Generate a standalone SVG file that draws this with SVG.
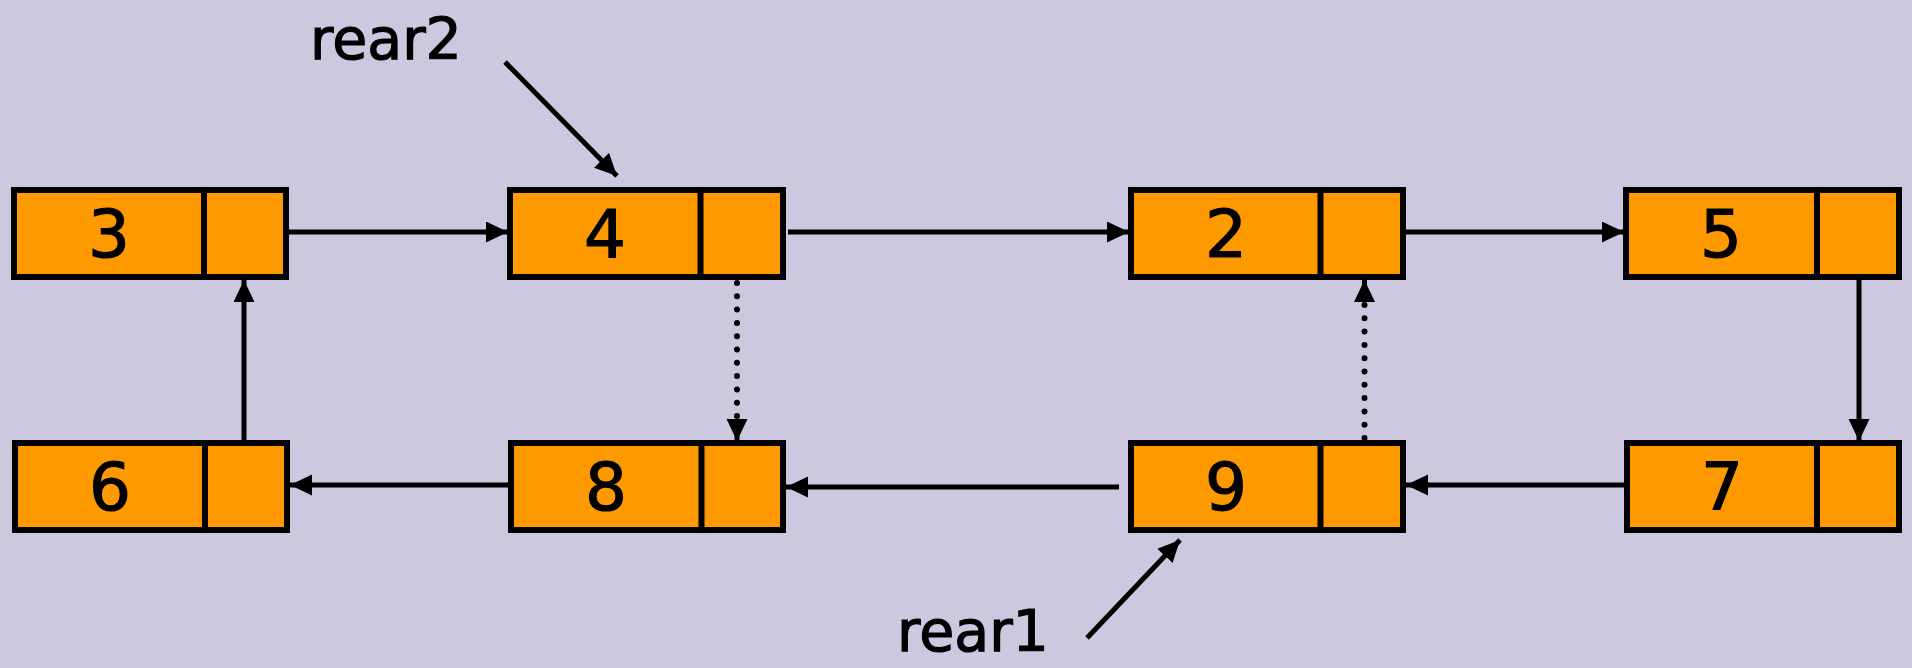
<svg xmlns="http://www.w3.org/2000/svg" width="1912" height="668" viewBox="0 0 1912 668">
<style>
.box{fill:#FF9900;stroke:#000;stroke-width:6}
.div{stroke:#000;stroke-width:6}
.num{font-family:"DejaVu Sans",sans-serif;font-size:66px;fill:#000;stroke:#000;stroke-width:1.2;text-anchor:middle}
.lbl{font-family:"DejaVu Sans",sans-serif;font-size:57px;fill:#000;stroke:#000;stroke-width:1.2}
.ln{fill:none;stroke:#000;stroke-width:5}
.dot{fill:none;stroke:#000;stroke-width:6;stroke-linecap:round;stroke-dasharray:0 13.3}
</style>
<defs>
<marker id="ah" markerUnits="userSpaceOnUse" markerWidth="24" markerHeight="22" refX="22" refY="10.5" orient="auto" viewBox="0 0 24 22">
<path d="M0,0 L22,10.5 L0,21 Z" fill="#000"/>
</marker>
</defs>
<rect width="1912" height="668" fill="#CEC7E0"/>
<g id="node3"><rect class="box" x="14" y="190" width="272" height="87"/><line class="div" x1="204" y1="190" x2="204" y2="277"/><text class="num" x="109" y="257">3</text></g>
<g id="node4"><rect class="box" x="510" y="190" width="273" height="87"/><line class="div" x1="700.5" y1="190" x2="700.5" y2="277"/><text class="num" x="605" y="257">4</text></g>
<g id="node2"><rect class="box" x="1131" y="190" width="272" height="87"/><line class="div" x1="1320.5" y1="190" x2="1320.5" y2="277"/><text class="num" x="1226" y="257">2</text></g>
<g id="node5"><rect class="box" x="1626" y="190" width="273" height="87"/><line class="div" x1="1817" y1="190" x2="1817" y2="277"/><text class="num" x="1721" y="257">5</text></g>
<g id="node6"><rect class="box" x="15" y="443" width="272" height="87"/><line class="div" x1="205" y1="443" x2="205" y2="530"/><text class="num" x="110" y="510">6</text></g>
<g id="node8"><rect class="box" x="511" y="443" width="272" height="87"/><line class="div" x1="701.5" y1="443" x2="701.5" y2="530"/><text class="num" x="606" y="510">8</text></g>
<g id="node9"><rect class="box" x="1131" y="443" width="272" height="87"/><line class="div" x1="1320.5" y1="443" x2="1320.5" y2="530"/><text class="num" x="1226" y="510">9</text></g>
<g id="node7"><rect class="box" x="1627" y="443" width="272" height="87"/><line class="div" x1="1817" y1="443" x2="1817" y2="530"/><text class="num" x="1722" y="510">7</text></g>
<g id="label-rear2"><text class="lbl" x="310" y="59">rear2</text></g>
<g id="label-rear1"><text class="lbl" x="897" y="651">rear1</text></g>
<g id="connectors">
<path class="ln" d="M289,232 L508,232" marker-end="url(#ah)"/>
<path class="ln" d="M788,232 L1129,232" marker-end="url(#ah)"/>
<path class="ln" d="M1406,232 L1624,232" marker-end="url(#ah)"/>
<path class="ln" d="M1859,280 L1859,441" marker-end="url(#ah)"/>
<path class="ln" d="M1624,485 L1406,485" marker-end="url(#ah)"/>
<path class="ln" d="M1119,487 L786,487" marker-end="url(#ah)"/>
<path class="ln" d="M508,485 L290,485" marker-end="url(#ah)"/>
<path class="ln" d="M244,440 L244,280" marker-end="url(#ah)"/>
<path class="dot" d="M737,283 L737,423"/>
<path class="ln" d="M737,424 L737,441" stroke-width="1" marker-end="url(#ah)"/>
<path class="dot" d="M1364.5,438 L1364.5,298"/>
<path class="ln" d="M1364.5,297 L1364.5,280" stroke-width="1" marker-end="url(#ah)"/>
<path class="ln" d="M505,62 L617,176" marker-end="url(#ah)"/>
<path class="ln" d="M1087,638 L1180,540" marker-end="url(#ah)"/>
</g>
</svg>
